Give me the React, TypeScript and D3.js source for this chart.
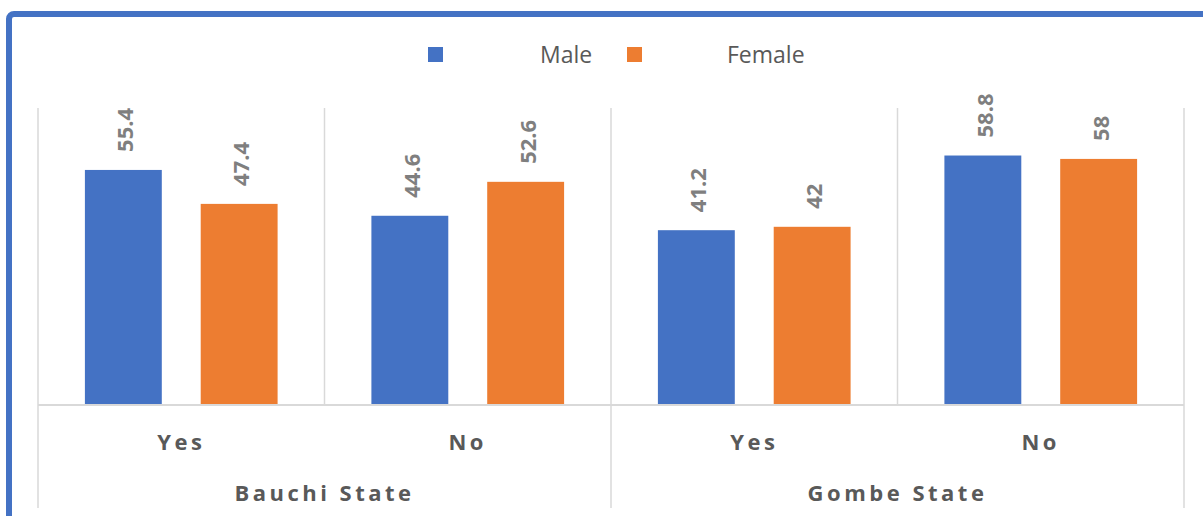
import React, { useRef, useEffect } from "react";
import * as d3 from "d3";

// Chart data
const states = ["Bauchi State", "Gombe State"];
const answers = ["Yes", "No"];
const series = ["Male", "Female"];
const maleValues = [55.4, 44.6, 41.2, 58.8];
const femaleValues = [47.4, 52.6, 42, 58];
const colors = ["#4472C4", "#ED7D31"];

export default function App() {
  const svgRef = useRef<SVGSVGElement>(null);

  useEffect(() => {
    const width = 1203;
    const height = 516;
    const left = 38;
    const right = 1184;
    const top = 108;
    const axisY = 405;

    const svg = d3.select(svgRef.current);
    svg.selectAll("*").remove();
    svg.attr("width", width).attr("height", height);

    // white background + blue frame (cropped on the right / bottom)
    svg.append("rect").attr("width", width).attr("height", height).attr("fill", "#fff");
    svg
      .append("rect")
      .attr("x", 9)
      .attr("y", 14)
      .attr("width", width + 40)
      .attr("height", height + 40)
      .attr("rx", 5)
      .attr("fill", "none")
      .attr("stroke", "#4472C4")
      .attr("stroke-width", 6);

    // build the categories: one per state x answer
    const cats: { key: string; state: string; answer: string; vals: number[] }[] = [];
    states.forEach((s, si) => {
      answers.forEach((a, ai) => {
        const i = si * answers.length + ai;
        cats.push({ key: s + "|" + a, state: s, answer: a, vals: [maleValues[i], femaleValues[i]] });
      });
    });

    const x0 = d3.scaleBand().domain(cats.map((c) => c.key)).range([left, right]).padding(0);
    const x1 = d3
      .scaleBand()
      .domain(series)
      .range([0, x0.bandwidth()])
      .paddingInner(0.336)
      .paddingOuter(0.405);
    const y = d3.scaleLinear().domain([0, 70]).range([axisY, top]);

    const grid = "#d9d9d9";

    // vertical separators between categories
    cats.forEach((c, i) => {
      const xx = x0(c.key)!;
      const isGroupEdge = i % answers.length === 0;
      svg
        .append("line")
        .attr("x1", xx)
        .attr("x2", xx)
        .attr("y1", top)
        .attr("y2", isGroupEdge ? 508 : axisY)
        .attr("stroke", grid)
        .attr("stroke-width", 1.5);
    });
    svg
      .append("line")
      .attr("x1", right)
      .attr("x2", right)
      .attr("y1", top)
      .attr("y2", 508)
      .attr("stroke", grid)
      .attr("stroke-width", 1.5);

    // bars
    const groups = svg
      .selectAll("g.cat")
      .data(cats)
      .join("g")
      .attr("class", "cat")
      .attr("transform", (d) => `translate(${x0(d.key)},0)`);

    groups
      .selectAll("rect")
      .data((d) => d.vals.map((v, i) => ({ v, s: series[i], i })))
      .join("rect")
      .attr("x", (d) => x1(d.s)!)
      .attr("y", (d) => y(d.v))
      .attr("width", x1.bandwidth())
      .attr("height", (d) => axisY - y(d.v))
      .attr("fill", (d) => colors[d.i]);

    // data labels, rotated
    groups
      .selectAll("text.lbl")
      .data((d) => d.vals.map((v, i) => ({ v, s: series[i], i })))
      .join("text")
      .attr("class", "lbl")
      .attr("transform", (d) => `translate(${x1(d.s)! + x1.bandwidth() / 2 + 1},${y(d.v) - 18}) rotate(-90)`)
      .attr("text-anchor", "start")
      .attr("dominant-baseline", "central")
      .style("font-family", "'Open Sans', sans-serif")
      .style("font-weight", "bold")
      .style("font-size", "22px")
      .style("fill", "#7f7f7f")
      .text((d) => String(d.v));

    // axis line
    svg
      .append("line")
      .attr("x1", left)
      .attr("x2", right)
      .attr("y1", axisY)
      .attr("y2", axisY)
      .attr("stroke", grid)
      .attr("stroke-width", 2);

    // category labels
    svg
      .selectAll("text.ans")
      .data(cats)
      .join("text")
      .attr("class", "ans")
      .attr("x", (d) => x0(d.key)! + x0.bandwidth() / 2)
      .attr("y", 441)
      .attr("text-anchor", "middle")
      .attr("dominant-baseline", "central")
      .style("font-family", "'Open Sans', sans-serif")
      .style("font-weight", "bold")
      .style("font-size", "22px")
      .style("letter-spacing", "3.5px")
      .style("fill", "#595959")
      .text((d) => d.answer);

    // state labels
    svg
      .selectAll("text.state")
      .data(states)
      .join("text")
      .attr("class", "state")
      .attr("x", (s, i) => {
        const first = x0(s + "|" + answers[0])!;
        return first + (x0.bandwidth() * answers.length) / 2;
      })
      .attr("y", 492)
      .attr("text-anchor", "middle")
      .attr("dominant-baseline", "central")
      .style("font-family", "'Open Sans', sans-serif")
      .style("font-weight", "bold")
      .style("font-size", "22px")
      .style("letter-spacing", "3.5px")
      .style("fill", "#595959")
      .text((s) => s);

    // legend
    const legendPos = [
      { box: 428, text: 540 },
      { box: 627, text: 727 },
    ];
    series.forEach((s, i) => {
      svg
        .append("rect")
        .attr("x", legendPos[i].box)
        .attr("y", 47)
        .attr("width", 15)
        .attr("height", 15)
        .attr("fill", colors[i]);
      svg
        .append("text")
        .attr("x", legendPos[i].text)
        .attr("y", 54)
        .attr("dominant-baseline", "central")
        .style("font-family", "'Open Sans', sans-serif")
        .style("font-size", "23px")
        .style("fill", "#595959")
        .text(s);
    });
  }, []);

  return (
    <svg
      ref={svgRef}
      style={{ position: "absolute", left: 0, top: 0, display: "block" }}
    ></svg>
  );
}
